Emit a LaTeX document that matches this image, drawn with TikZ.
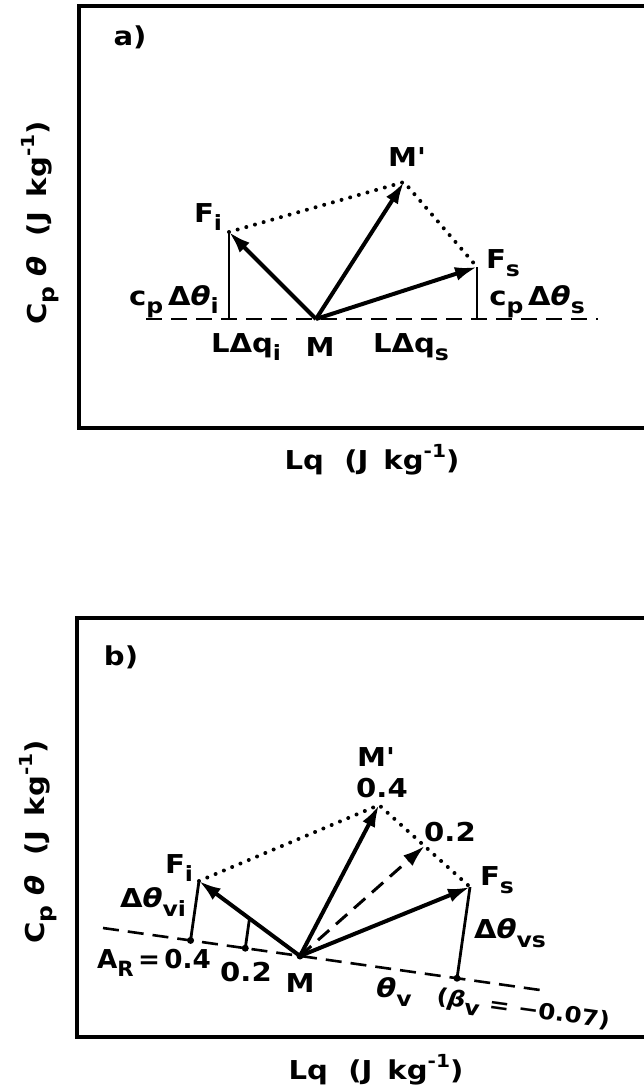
\documentclass[tikz,border=0pt]{standalone}
\usepackage{fontspec}
\setmainfont{DejaVu Sans}
\usetikzlibrary{arrows.meta,calc}
\newcommand\sbs[1]{\raisebox{-0.32em}{\fontsize{21}{25}\selectfont #1}}
\newcommand\sps[1]{\raisebox{0.45em}{\fontsize{18}{22}\selectfont #1}}
\newcommand\thet{\textit{θ}}
\tikzset{
  lab/.style={font=\fontsize{26}{31}\selectfont\bfseries, inner sep=0pt, xscale=1.12},
  vec/.style={line width=4pt, -{Latex[length=22pt,width=14pt]}},
  dvec/.style={line width=3pt, dash pattern=on 15pt off 9pt, -{Latex[length=22pt,width=14pt]}},
  dotl/.style={line width=4pt, dash pattern=on 0pt off 9pt, line cap=round},
  base/.style={line width=2.6pt, dash pattern=on 16pt off 9pt},
  perp/.style={line width=2.8pt},
  frm/.style={line width=3.6pt},
  pt/.style={fill, circle, inner sep=0pt, minimum size=7pt}
}
\begin{document}
\begin{tikzpicture}[x=1pt,y=-1pt]
\useasboundingbox (0,0) rectangle (644,1092);
% ---------------- panel a ----------------
\draw[frm] (644,6) -- (79,6) -- (79,428) -- (644,428);
\coordinate (aM) at (316,319);
\coordinate (aFi) at (229,232);
\coordinate (aFs) at (477,267);
\coordinate (aMp) at (404,182);
\coordinate (aL) at (146,319);
\coordinate (aR) at (598,319);
\coordinate (aFib) at (229,319);
\coordinate (aFsb) at (477,319);
\draw[base] (aL) -- (aR);
\draw[perp] (aFi) -- (aFib);
\draw[perp] (aFs) -- (aFsb);
\draw[dotl] (aFi) -- (aMp) -- (aFs);
\draw[vec] (aM) -- (aFi);
\draw[vec] (aM) -- (aMp);
\draw[vec] (aM) -- (aFs);
\node[lab] (alab) at (130,37) {a)};
\node[lab] (aFil) at (208,217) {F\sbs{i}};
\node[lab] (aMpl) at (407,157) {M\textquotesingle};
\node[lab] (aFsl) at (503,263) {F\sbs{s}};
\node[lab] (acpi) at (174,302) {c\sbs{p}\,Δ\thet\sbs{i}};
\node[lab] (acps) at (537,302) {c\sbs{p}\,Δ\thet\sbs{s}};
\node[lab] (aLqi) at (246,347) {LΔq\sbs{i}};
\node[lab] (aMl) at (320,347) {M};
\node[lab] (aLqs) at (411,347) {LΔq\sbs{s}};
\node[rotate=90, lab] (ay) at (40,223) {C\sbs{p} \thet\ \ (J\, kg\sps{-1})};
\node[lab] (ax) at (372,460) {Lq\ \ (J\, kg\sps{-1})};
% ---------------- panel b ----------------
\draw[frm] (644,618) -- (77,618) -- (77,1037) -- (644,1037);
\coordinate (bM) at (300,956);
\coordinate (bFi) at (199,881);
\coordinate (bFs) at (470,887);
\coordinate (bMp) at (379,805);
\coordinate (bL) at (103,928);
\coordinate (bR) at (540,990);
\coordinate (bFib) at ($(bL)!(bFi)!(bR)$);
\coordinate (bH) at ($(bM)!0.5!(bFi)$);
\coordinate (bHb) at ($(bL)!(bH)!(bR)$);
\coordinate (bFsb) at ($(bL)!(bFs)!(bR)$);
\coordinate (bQ) at ($(bMp)!0.5!(bFs)$);
\draw[base] (bL) -- (bR);
\draw[perp] (bFi) -- (bFib);
\draw[perp] (bH) -- (bHb);
\draw[perp] (bFs) -- (bFsb);
\node[pt] (dFib) at (bFib) {};
\node[pt] (dHb) at (bHb) {};
\node[pt] (dFsb) at (bFsb) {};
\node[pt] (dM) at (bM) {};
\draw[dotl] (bFi) -- (bMp) -- (bFs);
\draw[vec] (bM) -- (bFi);
\draw[vec] (bM) -- (bMp);
\draw[vec] (bM) -- (bFs);
\draw[dvec] (bM) -- (bQ);
\node[lab] (blab) at (121,657) {b)};
\node[lab] (bMpl) at (376,757) {M\textquotesingle};
\node[lab] (b04) at (382,788) {0.4};
\node[lab] (b02t) at (450,832) {0.2};
\node[lab] (bFil) at (179,868) {F\sbs{i}};
\node[lab] (bFsl) at (497,880) {F\sbs{s}};
\node[lab] (bdvi) at (153,902) {Δ\thet\sbs{vi}};
\node[lab] (bdvs) at (510,933) {Δ\thet\sbs{vs}};
\node[lab, xscale=0.9] (bAR) at (154,963) {A\sbs{R}\,=\,0.4};
\node[lab] (b02) at (246,972) {0.2};
\node[lab] (bMl) at (300,983) {M};
\node[lab] (btv) at (394,992) {\thet\sbs{v}};
\node[rotate=-8, lab, font=\fontsize{22}{27}\selectfont\bfseries] (bbeta) at (523,1011) {(\textit{β}\sbs{v} = −0.07)};
\node[rotate=90, lab] (by) at (38,842) {C\sbs{p} \thet\ \ (J\, kg\sps{-1})};
\node[lab] (bx) at (376,1070) {Lq\ \ (J\, kg\sps{-1})};
\end{tikzpicture}
\end{document}
